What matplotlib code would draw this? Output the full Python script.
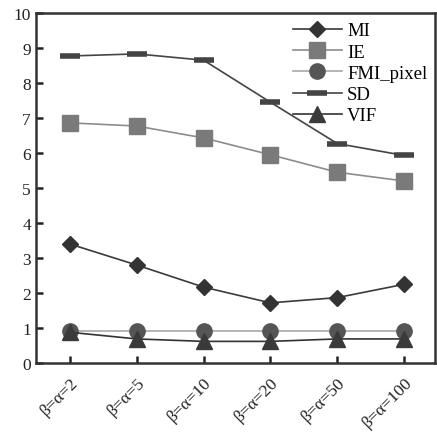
import matplotlib
matplotlib.use("Agg")
import matplotlib.pyplot as plt

plt.rcParams['font.family'] = ['Liberation Serif', 'DejaVu Serif']

categories = ["β=α=2", "β=α=5", "β=α=10", "β=α=20", "β=α=50", "β=α=100"]
MI = [3.40, 2.80, 2.17, 1.72, 1.87, 2.25]
IE = [6.86, 6.77, 6.43, 5.95, 5.45, 5.20]
FMI_pixel = [0.92, 0.92, 0.92, 0.92, 0.92, 0.92]
SD = [8.77, 8.83, 8.65, 7.45, 6.27, 5.93]
VIF = [0.88, 0.69, 0.62, 0.62, 0.69, 0.69]

fig = plt.figure(figsize=(4.37, 4.35), dpi=100)
ax = fig.add_axes([0.082, 0.163, 0.913, 0.805])
x = list(range(len(categories)))

ax.plot(x, MI, color='#3a3a3a', lw=1.2, marker='D', ms=8.5, mfc='#333333', mec='#333333', label='MI')
ax.plot(x, IE, color='#8c8c8c', lw=1.2, marker='s', ms=11, mfc='#7a7a7a', mec='#7a7a7a', label='IE')
ax.plot(x, FMI_pixel, color='#a8a8a8', lw=1.2, marker='o', ms=11, mfc='#555555', mec='#555555', label='FMI_pixel')
ax.plot(x, SD, color='#444444', lw=1.2, marker='_', ms=15, mew=4, mfc='#444444', mec='#444444', label='SD')
ax.plot(x, VIF, color='#333333', lw=1.2, marker='^', ms=11, mfc='#3a3a3a', mec='#3a3a3a', label='VIF')

ax.set_xlim(-0.51, 5.46)
ax.set_ylim(0, 10)
ax.set_yticks(range(0, 11))
ax.set_xticks(x)
ax.set_xticklabels(categories, rotation=45, ha='right', rotation_mode='anchor', fontsize=12.5)
ax.tick_params(axis='both', direction='in', length=5, width=1.8, colors='#222222', labelsize=12.5)
ax.tick_params(axis='x', pad=8)
for s in ax.spines.values():
    s.set_linewidth(1.8)
    s.set_color('#333333')

ax.legend(loc='upper right', bbox_to_anchor=(1.005, 1.0), frameon=False, fontsize=13.5,
          handlelength=2.6, labelspacing=0.22, handletextpad=0.3, borderaxespad=0.1)

fig.savefig('out.png', dpi=100)
